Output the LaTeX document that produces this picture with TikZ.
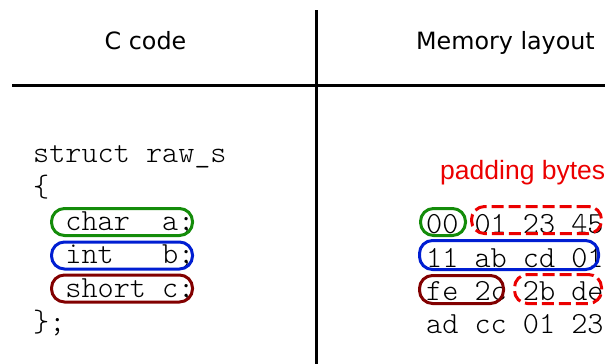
\documentclass[tikz,border=0pt]{standalone}
\usepackage{fontspec}
\newfontfamily\headfont{DejaVu Sans}
\newfontfamily\padfont{Liberation Sans}
\newfontfamily\codefont{Latin Modern Mono Light}
\definecolor{cgreen}{RGB}{20,140,10}
\definecolor{cblue}{RGB}{0,30,210}
\definecolor{cdred}{RGB}{130,0,0}
\definecolor{cred}{RGB}{235,0,0}
\begin{document}
\begin{tikzpicture}[x=1pt,y=-1pt,
  head/.style={font=\headfont\fontsize{23.8}{28}\selectfont, anchor=base, inner sep=0pt},
  code/.style={font=\codefont\fontsize{30.7}{34}\selectfont, anchor=base west, inner sep=0pt},
  pad/.style={font=\padfont\fontsize{26.5}{30}\selectfont, text=cred, anchor=base west, inner sep=0pt},
  fld/.style={draw=#1, line width=3pt, rounded corners=13pt, inner sep=0pt, minimum height=27pt},
  padbox/.style={draw=cred, line width=3pt, dash pattern=on 12pt off 5pt, rounded corners=13pt, inner sep=0pt, minimum height=27pt},
  rulel/.style={line width=3pt}]
\useasboundingbox (0,0) rectangle (605,364);
\clip (0,0) rectangle (605,364);
% headers and rules
\node[head] (hc) at (145.5,49) {C code};
\node[head] (hm) at (505.5,49) {Memory layout};
\draw[rulel] (12,85) -- (605,85);
\draw[rulel] (316,10) -- (316,364);
% code
\node[code] (l1) at (33,162) {struct raw\_s};
\node[code] (l2) at (33,196) {\{};
\node[code] (l3) at (33,230) {~~char~~a;};
\node[code] (l4) at (33,263) {~~int~~~b;};
\node[code] (l5) at (33,297) {~~short~c;};
\node[code] (l6) at (33,331) {\};};
\node[fld=cgreen, minimum width=141pt] (ba) at (122,222) {};
\node[fld=cblue, minimum width=141pt] (bb) at (122,255.5) {};
\node[fld=cdred, minimum width=141pt] (bc) at (122,288.5) {};
% memory
\node[pad] (pt) at (440,179) {padding bytes};
\node[code] (m1) at (426,233) {00 01 23 45};
\node[code] (m2) at (426,267) {11 ab cd 01};
\node[code] (m3) at (426,300) {fe 2c 2b de};
\node[code] (m4) at (426,333) {ad cc 01 23};
\node[fld=cgreen, minimum width=45pt] (ma) at (443,222) {};
\node[padbox, minimum width=130pt] (p1) at (536.5,220) {};
\node[fld=cblue, minimum width=179pt, minimum height=29pt] (mb) at (509,255) {};
\node[fld=cdred, minimum width=84pt, minimum height=28pt] (mc) at (461.5,289.5) {};
\node[padbox, minimum width=87pt, minimum height=29pt] (p2) at (558,289) {};
\end{tikzpicture}
\end{document}
